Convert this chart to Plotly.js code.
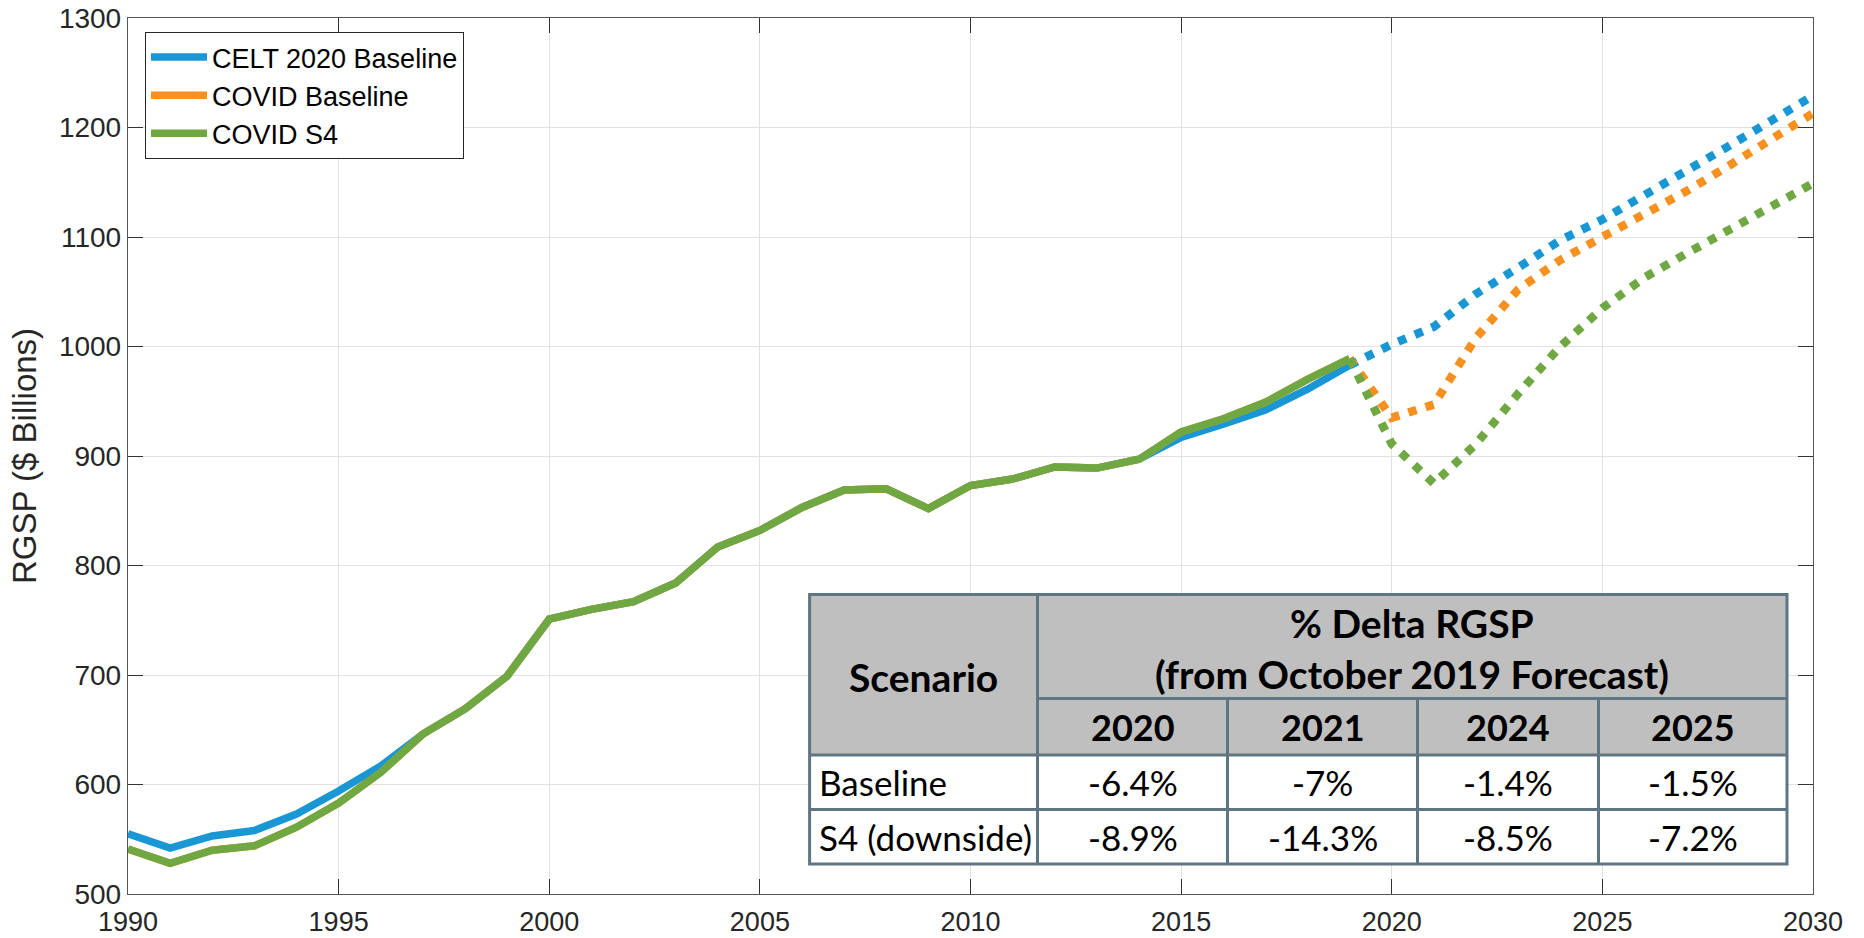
<!DOCTYPE html>
<html><head><meta charset="utf-8">
<script src="https://cdn.plot.ly/plotly-3.0.1.min.js"></script>
<style>html,body{margin:0;padding:0;background:#fff;overflow:hidden;} #chart{width:1864px;height:938px;}</style>
</head><body><div id="chart"></div>
<script>
// ---------- data ----------
const histYears = [1990,1991,1992,1993,1994,1995,1996,1997,1998,1999,2000,2001,2002,2003,2004,2005,2006,2007,2008,2009,2010,2011,2012,2013,2014,2015,2016,2017,2018,2019];
const celtHist = [555,542,553,558,573,594,617,646,669,699,751,760,767,784,817,832,853,869,870,852,873,879,890,889,897,917,929,942,961,983];
const covidBaseHist = [541,528,540,544,561,583,611,646,669,699,751,760,767,784,817,832,853,869,870,852,873,879,890,889,897,922,934,949,970,989];
const s4Hist = [541,528,540,544,561,583,611,646,669,699,751,760,767,784,817,832,853,869,870,852,873,879,890,889,897,922,934,949,970,989];

const fcYears = [2019,2020,2021,2022,2023,2024,2025,2026,2027,2028,2029,2030];
const celtFc = [983,1002,1018,1048,1072,1097,1116,1138,1159,1183,1206,1229];
const covidBaseFc = [989,935,947,1008,1052,1079,1100,1120,1142,1165,1189,1213];
const s4Fc = [989,911,875,911,957,1000,1035,1063,1085,1106,1129,1149];

const seriesNames = ['CELT 2020 Baseline','COVID Baseline','COVID S4'];

const tableTitle1 = '% Delta RGSP';
const tableTitle2 = '(from October 2019 Forecast)';
const tableCorner = 'Scenario';
const tableYears = ['2020','2021','2024','2025'];
const tableScenarios = ['Baseline','S4 (downside)'];
const baselineDelta = ['-6.4%','-7%','-1.4%','-1.5%'];
const s4Delta = ['-8.9%','-14.3%','-8.5%','-7.2%'];

// ---------- styles ----------
const colors = ['#1997d4','#f7901e','#6fa843'];
const solidW = 7.5;
const dotW = 8.5;
const dotDash = '8.5px,9.5px';

const W = 1864, H = 938;
const M = {l:128, r:51, t:18, b:44};
const pw = W - M.l - M.r, ph = H - M.t - M.b;
function px(X){ return (X - M.l) / pw; }
function py(Y){ return (H - M.b - Y) / ph; }

const hists = [celtHist, covidBaseHist, s4Hist];
const fcs = [celtFc, covidBaseFc, s4Fc];
const traces = [];
for (let i = 0; i < 3; i++) {
  traces.push({x: histYears, y: hists[i], type:'scatter', mode:'lines', name: seriesNames[i],
    legendgroup:'g'+i, line:{color: colors[i], width: solidW}, hoverinfo:'skip'});
}
for (let i = 0; i < 3; i++) {
  traces.push({x: fcYears, y: fcs[i], type:'scatter', mode:'lines', name: seriesNames[i],
    legendgroup:'g'+i, showlegend:false, line:{color: colors[i], width: dotW, dash: dotDash}, hoverinfo:'skip'});
}

// ---------- table (shapes + annotations) ----------
const colE = [809.6, 1037.5, 1227.5, 1417.5, 1598.5, 1787];
const rowE = [594.5, 698.5, 755, 809.5, 864];
const bcol = '#5e7682', bw = 3;
const shapes = [];
function rect(x0,y0,x1,y1,fill){ shapes.push({type:'rect', xref:'paper', yref:'paper', x0:px(x0), x1:px(x1), y0:py(y1), y1:py(y0), fillcolor:fill, line:{width:0}, layer:'above'}); }
function seg(x0,y0,x1,y1){ shapes.push({type:'line', xref:'paper', yref:'paper', x0:px(x0), x1:px(x1), y0:py(y0), y1:py(y1), line:{color:bcol, width:bw}, layer:'above'}); }
rect(colE[0], rowE[0], colE[5], rowE[2], '#bfbfbf');
rect(colE[0], rowE[2], colE[5], rowE[4], '#ffffff');
seg(colE[1], rowE[1], colE[5], rowE[1]);
seg(colE[0], rowE[2], colE[5], rowE[2]);
seg(colE[0], rowE[3], colE[5], rowE[3]);
seg(colE[1], rowE[0], colE[1], rowE[4]);
for (let c = 2; c <= 4; c++) seg(colE[c], rowE[1], colE[c], rowE[4]);
shapes.push({type:'rect', xref:'paper', yref:'paper', x0:px(colE[0]), x1:px(colE[5]), y0:py(rowE[4]), y1:py(rowE[0]), fillcolor:'rgba(0,0,0,0)', line:{color:bcol, width:bw}, layer:'above'});

const tFont = 'Lato, "Open Sans", sans-serif';
const ann = [];
function txt(s, X, Y, size, bold, align){
  ann.push({xref:'paper', yref:'paper', x:px(X), y:py(Y), text: bold ? '<b>'+s+'</b>' : s,
    showarrow:false, xanchor: align || 'center', yanchor:'middle',
    font:{family:tFont, size:size, color:'#000'}});
}
txt(tableCorner, (colE[0]+colE[1])/2, (rowE[0]+rowE[2])/2 + 2, 39, true);
txt(tableTitle1, (colE[1]+colE[5])/2, 623, 39, true);
txt(tableTitle2, (colE[1]+colE[5])/2, 674, 39, true);
for (let c = 0; c < 4; c++) {
  const cx = (colE[c+1]+colE[c+2])/2;
  txt(tableYears[c], cx, (rowE[1]+rowE[2])/2, 36, true);
  txt(baselineDelta[c], cx, (rowE[2]+rowE[3])/2, 35, false);
  txt(s4Delta[c], cx, (rowE[3]+rowE[4])/2, 35, false);
}
txt(tableScenarios[0], colE[0]+7, (rowE[2]+rowE[3])/2, 35, false, 'left');
txt(tableScenarios[1], colE[0]+7, (rowE[3]+rowE[4])/2, 35, false, 'left');

// ---------- layout ----------
const axFont = {family:'"Liberation Sans", Arial, sans-serif', size:28, color:'#262626'};
const common = {showgrid:true, gridcolor:'#e2e2e2', gridwidth:1, zeroline:false,
  ticks:'inside', ticklen:15, tickwidth:1, tickcolor:'#333', showline:true, linecolor:'#555', linewidth:1.2,
  mirror:'ticks', tickfont: axFont};
const layout = {
  width:W, height:H, margin:M, paper_bgcolor:'#fff', plot_bgcolor:'#fff',
  xaxis: Object.assign({}, common, {range:[1990,2030], tick0:1990, dtick:5, ticklabelstandoff:3,
    tickfont:{family:'"Liberation Sans", Arial, sans-serif', size:27, color:'#262626'}}),
  yaxis: Object.assign({}, common, {range:[500,1300], tick0:500, dtick:100,
    title:{text:'RGSP ($ Billions)', font:{family:'"Liberation Sans", Arial, sans-serif', size:33, color:'#262626'}, standoff:12}}),
  showlegend:true,
  legend:{x:px(145), y:py(32), xanchor:'left', yanchor:'top', bgcolor:'#fff', bordercolor:'#262626', borderwidth:1,
    font:{family:'"Liberation Sans", Arial, sans-serif', size:27, color:'#000'}, itemwidth:56, tracegroupgap:0},
  shapes: shapes, annotations: ann
};
Plotly.newPlot('chart', traces, layout, {displayModeBar:false, staticPlot:true});
</script></body></html>
